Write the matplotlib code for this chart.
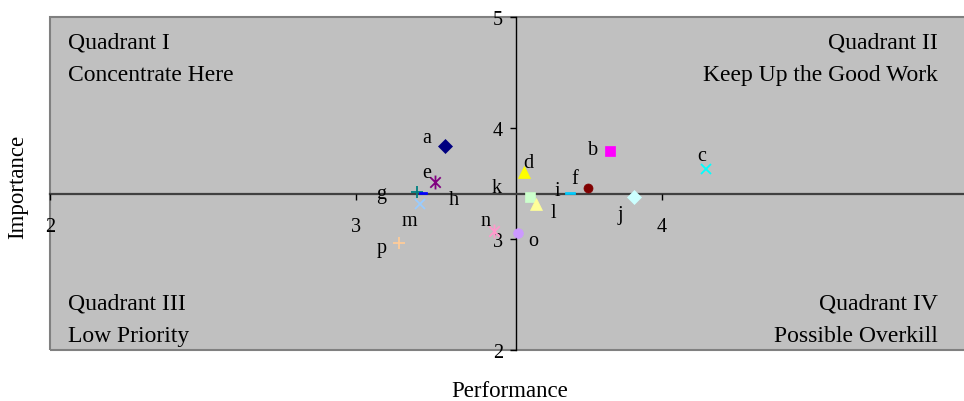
import numpy as np
import matplotlib
matplotlib.use("Agg")
import matplotlib.pyplot as plt
from matplotlib.path import Path
from matplotlib.patches import Rectangle

plt.rcParams['font.family'] = ['Liberation Serif', 'DejaVu Serif']

# Attribute letters with their performance / importance scores
labels = ['a', 'b', 'c', 'd', 'e', 'f', 'g', 'h', 'i', 'j', 'k', 'l', 'm', 'n', 'o', 'p']
performance = [3.29, 3.83, 4.145, 3.55, 3.26, 3.76, 3.20, 3.22, 3.70, 3.91, 3.57, 3.59, 3.21, 3.45, 3.53, 3.14]
importance = [3.835, 3.79, 3.63, 3.605, 3.515, 3.46, 3.425, 3.41, 3.41, 3.38, 3.38, 3.315, 3.315, 3.07, 3.05, 2.96]

x_ticks = [2, 3, 4]
y_ticks = [2, 3, 4, 5]

# Marker styling per series
star = Path([(0, -1), (0, 1), (-0.75, -0.75), (0.75, 0.75), (-0.75, 0.75), (0.75, -0.75)],
            [Path.MOVETO, Path.LINETO, Path.MOVETO, Path.LINETO, Path.MOVETO, Path.LINETO])
dash = Path([(-1, -0.3), (1, -0.3), (1, 0.3), (-1, 0.3), (-1, -0.3)],
            [Path.MOVETO, Path.LINETO, Path.LINETO, Path.LINETO, Path.CLOSEPOLY])

styles = [
    ('D', '#000080', 7.5, True),
    ('s', '#FF00FF', 6.5, True),
    ('x', '#00FFFF', 7.5, False),
    ('^', '#FFFF00', 8, True),
    (star, '#800080', 10, False),
    ('o', '#800000', 6.5, True),
    ('+', '#008080', 9, False),
    (dash, '#0000FF', 6, True),
    (dash, '#00CCFF', 6.5, True),
    ('D', '#CCFFFF', 7.5, True),
    ('s', '#CCFFCC', 6.5, True),
    ('^', '#FFFF99', 8, True),
    ('x', '#99CCFF', 7.5, False),
    (star, '#FF99CC', 10, False),
    ('o', '#CC99FF', 7, True),
    ('+', '#FFCC99', 9, False),
]

# Data label offsets (points)
offsets = [(-13, 6), (-12, 1.5), (-3, 10), (3, 6.5), (-6, 6.5), (-10, 6.5), (-26, -1), (22, -4),
           (-9, 2), (-10, -13), (-24, 7), (12, -6), (-8, -12), (-6, 8), (11, -5), (-12, -3)]

W, H = 964, 402
fig = plt.figure(figsize=(W / 100, H / 100), dpi=100)
ax_left, ax_right, ax_top, ax_bottom = 50.3, 967.4, 18, 351
ax = fig.add_axes([ax_left / W, (H - ax_bottom) / H, (ax_right - ax_left) / W, (ax_bottom - ax_top) / H])
ax.set_facecolor('#C0C0C0')
ax.set_xlim(2, 5)
ax.set_ylim(2, 5)

x_cross = np.mean(performance)
y_cross = np.mean(importance)

for s in ['top', 'right']:
    ax.spines[s].set_visible(False)
ax.spines['left'].set_position(('data', x_cross))
ax.spines['bottom'].set_position(('data', y_cross))
ax.spines['left'].set_color('#000000')
ax.spines['left'].set_linewidth(1.0)
ax.spines['bottom'].set_color('#404040')
ax.spines['bottom'].set_linewidth(1.6)
ax.spines['left'].set_zorder(1)
ax.spines['bottom'].set_zorder(1)

ax.set_xticks(x_ticks)
ax.set_yticks(y_ticks)
ax.set_xticklabels([str(t) for t in x_ticks])
ax.set_yticklabels([str(t) for t in y_ticks])
ax.tick_params(axis='x', direction='out', length=4, width=1, pad=13, labelsize=14.5, color='#000000')
ax.tick_params(axis='y', direction='out', length=4, width=1, pad=5, labelsize=14.5, color='#000000')

# Plot area border
ax.add_patch(Rectangle((0, 0), 1, 1, transform=ax.transAxes, fill=False,
                       edgecolor='#808080', linewidth=1.5, clip_on=False, zorder=0.5))

for lab, x, y, (mk, col, ms, filled), (dx, dy) in zip(labels, performance, importance, styles, offsets):
    if filled:
        ax.plot(x, y, linestyle='none', marker=mk, markersize=ms, markerfacecolor=col,
                markeredgecolor=col, markeredgewidth=0.5, zorder=3, clip_on=False)
    else:
        ax.plot(x, y, linestyle='none', marker=mk, markersize=ms, markerfacecolor='none',
                markeredgecolor=col, markeredgewidth=1.3, zorder=3, clip_on=False)
    ax.annotate(lab, (x, y), xytext=(dx, dy), textcoords='offset points',
                ha='center', va='center', fontsize=14.5, color='#000000', zorder=4)

# Quadrant captions
qfs = 17.0
ax.text(0.0193, 0.907, 'Quadrant I', transform=ax.transAxes, ha='left', va='baseline', fontsize=qfs)
ax.text(0.0193, 0.811, 'Concentrate Here', transform=ax.transAxes, ha='left', va='baseline', fontsize=qfs)
ax.text(0.968, 0.907, 'Quadrant II', transform=ax.transAxes, ha='right', va='baseline', fontsize=qfs)
ax.text(0.968, 0.811, 'Keep Up the Good Work', transform=ax.transAxes, ha='right', va='baseline', fontsize=qfs)
ax.text(0.0193, 0.126, 'Quadrant III', transform=ax.transAxes, ha='left', va='baseline', fontsize=qfs)
ax.text(0.0193, 0.027, 'Low Priority', transform=ax.transAxes, ha='left', va='baseline', fontsize=qfs)
ax.text(0.968, 0.126, 'Quadrant IV', transform=ax.transAxes, ha='right', va='baseline', fontsize=qfs)
ax.text(0.968, 0.027, 'Possible Overkill', transform=ax.transAxes, ha='right', va='baseline', fontsize=qfs)

# Axis titles
fig.text(510 / W, 1 - 392 / H, 'Performance', ha='center', va='center', fontsize=16.5)
fig.text(18 / W, 1 - 187 / H, 'Importance', ha='center', va='center', fontsize=16.5, rotation=90)

fig.savefig('out.png', dpi=100)
